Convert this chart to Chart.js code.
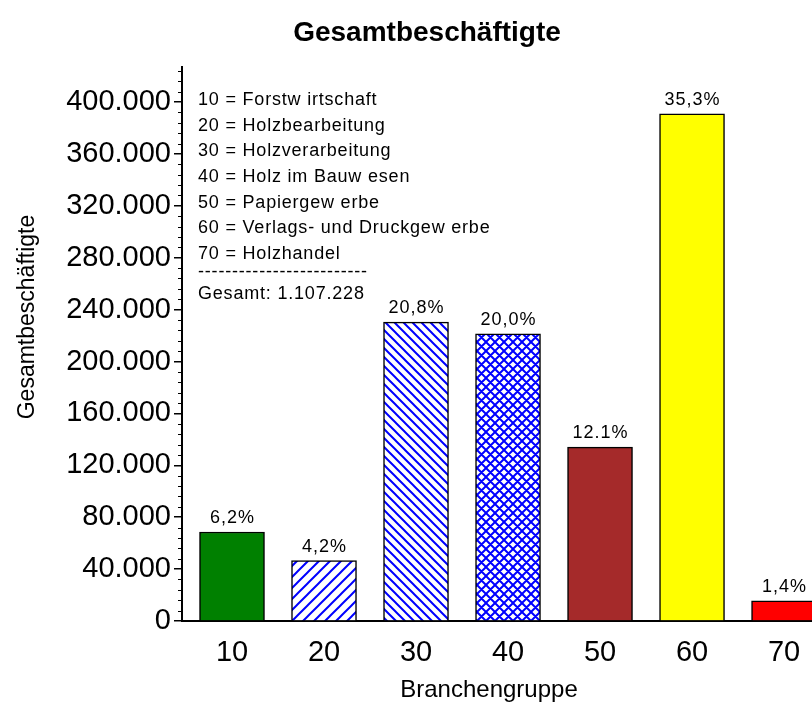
<!DOCTYPE html>
<html><head><meta charset="utf-8">
<script src="https://cdn.jsdelivr.net/npm/chart.js@4.4.1/dist/chart.umd.min.js"></script>
<style>html,body{margin:0;padding:0;background:#fff;overflow:hidden}#wrap{width:812px;height:711px}</style>
</head><body><div id="wrap"><canvas id="c" width="812" height="711"></canvas></div>
<script>
const categories = [10, 20, 30, 40, 50, 60, 70];
const employees = [68600, 46500, 230300, 221400, 134000, 390900, 15500];
const shareLabels = ['6,2%', '4,2%', '20,8%', '20,0%', '12.1%', '35,3%', '1,4%'];
const yTickValues = [0, 40000, 80000, 120000, 160000, 200000, 240000, 280000, 320000, 360000, 400000];
const yTickLabels = ['0', '40.000', '80.000', '120.000', '160.000', '200.000', '240.000', '280.000', '320.000', '360.000', '400.000'];
const legendLines = ['10 = Forstw irtschaft', '20 = Holzbearbeitung', '30 = Holzverarbeitung', '40 = Holz im Bauw esen', '50 = Papiergew erbe', '60 = Verlags- und Druckgew erbe', '70 = Holzhandel'];
const legendRule = '-------------------------';
const totalLine = 'Gesamt: 1.107.228';
const chartTitle = 'Gesamtbeschäftigte';
const xTitle = 'Branchengruppe';
const yTitle = 'Gesamtbeschäftigte';

const FONT = 'Liberation Sans, Arial, sans-serif';
const canvas = document.getElementById('c');
const mainCtx = canvas.getContext('2d');

function hatch(kind, size) {
  const c = document.createElement('canvas');
  c.width = c.height = size;
  const g = c.getContext('2d');
  g.fillStyle = '#fff'; g.fillRect(0, 0, size, size);
  g.strokeStyle = '#0000ff'; g.lineWidth = 2;
  g.beginPath();
  if (kind === 'fwd' || kind === 'cross') {
    g.moveTo(-1, size + 1); g.lineTo(size + 1, -1);
    g.moveTo(-2, 2); g.lineTo(2, -2);
    g.moveTo(size - 2, size + 2); g.lineTo(size + 2, size - 2);
  }
  if (kind === 'back' || kind === 'cross') {
    g.moveTo(-1, -1); g.lineTo(size + 1, size + 1);
    g.moveTo(size - 2, -2); g.lineTo(size + 2, 2);
    g.moveTo(-2, size - 2); g.lineTo(2, size + 2);
  }
  g.stroke();
  return mainCtx.createPattern(c, 'repeat');
}

const fills = ['#008000', hatch('fwd', 11), hatch('back', 9), hatch('cross', 9), '#A52A2A', '#FFFF00', '#FF0000'];

const overlay = {
  id: 'overlay',
  afterDraw(chart) {
    const ctx = chart.ctx;
    const ys = chart.scales.y;
    const xs = chart.scales.x;
    ctx.save();
    // minor ticks
    ctx.strokeStyle = '#000'; ctx.lineWidth = 1;
    for (let v = 8000; v < ys.max; v += 8000) {
      if (v % 40000 === 0) continue;
      const y = Math.round(ys.getPixelForValue(v)) + 0.5;
      ctx.beginPath(); ctx.moveTo(ys.right - 4, y); ctx.lineTo(ys.right, y); ctx.stroke();
    }
    // value labels
    ctx.fillStyle = '#000';
    ctx.font = '18px ' + FONT;
    ctx.letterSpacing = '1px';
    ctx.textAlign = 'center'; ctx.textBaseline = 'middle';
    chart.getDatasetMeta(0).data.forEach((el, i) => {
      ctx.fillText(shareLabels[i], el.x + 0.5, el.y - 14);
    });
    ctx.letterSpacing = '0px';
    // axis titles
    ctx.font = '24px ' + FONT;
    ctx.fillText(xTitle, xs.left + (xs.right - xs.left) / 2 - 8, 690);
    ctx.save();
    ctx.translate(28, 317);
    ctx.rotate(-Math.PI / 2);
    ctx.font = '23px ' + FONT;
    ctx.fillText(yTitle, 0, 0);
    ctx.restore();
    // legend text block
    ctx.font = '18px ' + FONT;
    ctx.letterSpacing = '0.8px';
    ctx.textAlign = 'left';
    const x0 = chart.chartArea.left + 16;
    legendLines.forEach((t, i) => ctx.fillText(t, x0, 100 + i * 25.7));
    ctx.fillText(legendRule, x0, 272);
    ctx.fillText(totalLine, x0, 294);
    ctx.letterSpacing = '0px';
    ctx.restore();
  }
};

new Chart(canvas, {
  type: 'bar',
  data: {
    datasets: [{
      data: categories.map((c, i) => ({ x: c, y: employees[i] })),
      backgroundColor: fills,
      borderColor: '#000',
      borderWidth: 1.5,
      barThickness: 65
    }]
  },
  options: {
    responsive: false,
    animation: false,
    devicePixelRatio: 1,
    layout: { padding: { left: 42, right: 0, top: 0, bottom: 0 } },
    plugins: {
      legend: { display: false },
      tooltip: { enabled: false },
      title: {
        display: true, text: chartTitle, color: '#000',
        font: { family: FONT, size: 28, weight: 'bold' },
        padding: { top: 16, bottom: 17.4 }
      }
    },
    scales: {
      x: {
        type: 'linear', min: 4.565, max: 73.04, offset: false,
        grid: { display: false, offset: false },
        border: { display: true, color: '#000', width: 2 },
        ticks: { color: '#000', font: { family: FONT, size: 29 }, padding: 7, autoSkip: false, maxRotation: 0 },
        afterBuildTicks: s => { s.ticks = categories.map(v => ({ value: v })); },
        afterFit: s => { s.height = 90; },
        title: { display: false, text: xTitle }
      },
      y: {
        min: 0, max: 427000,
        grid: { display: true, drawOnChartArea: false, drawTicks: true, tickLength: 8, color: '#000', lineWidth: 1.5 },
        border: { display: true, color: '#000', width: 2 },
        ticks: {
          color: '#000', font: { family: FONT, size: 29 }, padding: 3,
          callback: v => yTickLabels[yTickValues.indexOf(v)]
        },
        afterBuildTicks: s => { s.ticks = yTickValues.map(v => ({ value: v })); },
        afterFit: s => { s.width = 140; },
        title: { display: false, text: yTitle }
      }
    }
  },
  plugins: [overlay]
});
</script>
</body></html>
